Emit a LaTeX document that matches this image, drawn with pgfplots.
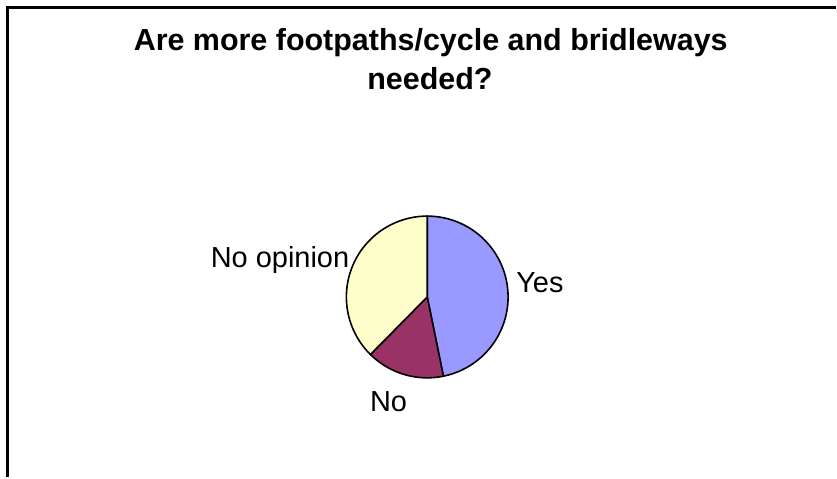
\documentclass[border=0pt]{standalone}
\usepackage{pgfplots}
\pgfplotsset{compat=1.18}
\usepackage{pgfplotstable}
\usepackage{fontspec}
\setmainfont{Liberation Sans}
\definecolor{cyes}{HTML}{9999FF}
\definecolor{cno}{HTML}{993366}
\definecolor{cnoop}{HTML}{FFFFCC}

\pgfplotstableread{
label value
Yes 46.8
No 15.6
NoOpinion 37.6
}\piedata

\begin{document}
\begin{tikzpicture}
\pgfplotstablegetelem{0}{value}\of\piedata \let\vA\pgfplotsretval
\pgfplotstablegetelem{1}{value}\of\piedata \let\vB\pgfplotsretval
\pgfplotstablegetelem{2}{value}\of\piedata \let\vC\pgfplotsretval
\pgfmathsetmacro\tot{\vA+\vB+\vC}
\pgfmathsetmacro\aA{\vA/\tot*360}
\pgfmathsetmacro\aB{\aA+\vB/\tot*360}
\def\cx{428}\def\cy{297.5}\def\rr{81}
\begin{axis}[scale only axis, width=837pt, height=478pt,
  xmin=0, xmax=837, ymin=0, ymax=478, y dir=reverse,
  hide axis, clip=false]
\path (axis cs:0,0) rectangle (axis cs:837,478);
\draw[line width=3pt] (axis cs:7.5,478) -- (axis cs:7.5,7.5) -- (axis cs:837,7.5);
\addplot[fill=cyes, draw=black, line width=1.6pt, domain=0:\aA, samples=90, smooth]
  ({\cx+\rr*sin(x)},{\cy-\rr*cos(x)}) -- (axis cs:\cx,\cy) -- cycle;
\addplot[fill=cno, draw=black, line width=1.6pt, domain=\aA:\aB, samples=40, smooth]
  ({\cx+\rr*sin(x)},{\cy-\rr*cos(x)}) -- (axis cs:\cx,\cy) -- cycle;
\addplot[fill=cnoop, draw=black, line width=1.6pt, domain=\aB:360, samples=80, smooth]
  ({\cx+\rr*sin(x)},{\cy-\rr*cos(x)}) -- (axis cs:\cx,\cy) -- cycle;
\node[anchor=base, font=\fontsize{30.5}{36}\selectfont\bfseries] at (axis cs:431.5,50.7) {Are more footpaths/cycle and bridleways};
\node[anchor=base, font=\fontsize{30.5}{36}\selectfont\bfseries] at (axis cs:430.7,90) {needed?};
\node[anchor=base west, inner sep=0pt, font=\fontsize{29}{34}\selectfont] at (axis cs:211,268.3) {No opinion};
\node[anchor=base west, inner sep=0pt, font=\fontsize{29}{34}\selectfont] at (axis cs:517,293) {Yes};
\node[anchor=base west, inner sep=0pt, font=\fontsize{29}{34}\selectfont] at (axis cs:370.5,412) {No};
\end{axis}
\end{tikzpicture}
\end{document}
